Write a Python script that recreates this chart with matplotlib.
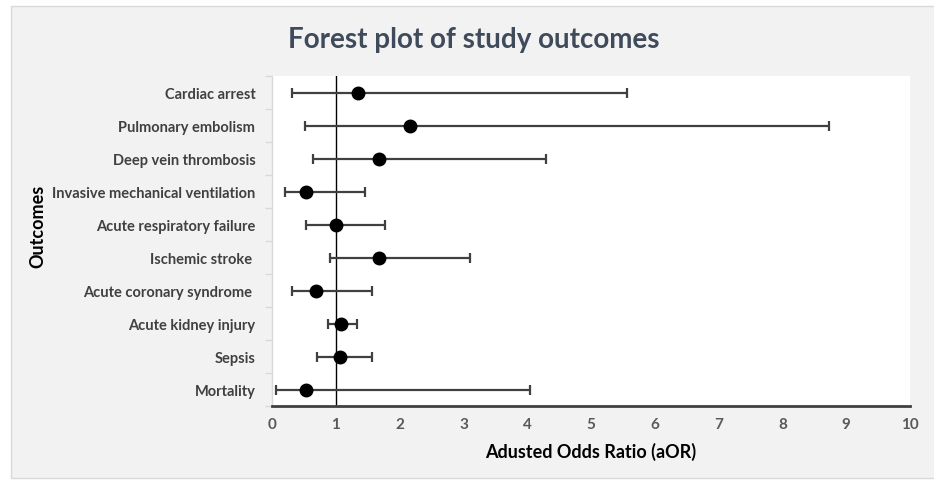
import matplotlib
matplotlib.use("Agg")
import matplotlib.pyplot as plt
from matplotlib.patches import Rectangle

# data
outcomes = ["Cardiac arrest", "Pulmonary embolism", "Deep vein thrombosis",
            "Invasive mechanical ventilation", "Acute respiratory failure",
            "Ischemic stroke ", "Acute coronary syndrome ", "Acute kidney injury",
            "Sepsis", "Mortality"]
aor = [1.35, 2.16, 1.68, 0.53, 1.00, 1.68, 0.69, 1.08, 1.07, 0.53]
ci_low = [0.32, 0.52, 0.65, 0.20, 0.54, 0.91, 0.31, 0.88, 0.70, 0.07]
ci_high = [5.56, 8.73, 4.29, 1.45, 1.77, 3.10, 1.57, 1.33, 1.57, 4.04]
x_ticks = list(range(0, 11))

plt.rcParams['font.family'] = ['Lato', 'DejaVu Sans']

bg = '#f2f2f2'
fig = plt.figure(figsize=(9.34, 4.81), dpi=100)
fig.patch.set_facecolor('white')
# grey chart area with thin border like the excel frame
fig.patches.append(Rectangle((11 / 934, 2 / 481), 1, 472 / 481, transform=fig.transFigure,
                             facecolor=bg, edgecolor='#d9d9d9', linewidth=1, zorder=-1))

ax = fig.add_axes([272 / 934, 74 / 481, 638 / 934, 330 / 481])
ax.set_facecolor('white')

ypos = list(range(len(outcomes)))
err_lo = [a - l for a, l in zip(aor, ci_low)]
err_hi = [h - a for a, h in zip(aor, ci_high)]
ax.errorbar(aor, ypos, xerr=[err_lo, err_hi], fmt='o', color='black', ecolor='#404040',
            elinewidth=1.6, capsize=3.5, capthick=1.6, markersize=9, zorder=3)
ax.axvline(1, color='black', linewidth=1, zorder=2)

ax.set_xlim(0, 10)
ax.set_ylim(len(outcomes) - 0.5, -0.5)
ax.set_xticks(x_ticks)
ax.set_yticks(ypos)
ax.set_yticklabels(outcomes)
ax.set_yticks([i - 0.5 for i in range(len(outcomes) + 1)], minor=True)
ax.tick_params(axis='y', which='major', length=0, pad=12, labelsize=10.5,
               labelcolor='#404040')
ax.tick_params(axis='y', which='minor', length=5, color='#d9d9d9', width=1)
ax.tick_params(axis='x', length=0, pad=8, labelsize=11, labelcolor='#595959')
for lab in ax.get_xticklabels() + ax.get_yticklabels():
    lab.set_fontweight('bold')

for s in ['top', 'right']:
    ax.spines[s].set_visible(False)
ax.spines['left'].set_color('#d9d9d9')
ax.spines['left'].set_linewidth(1)
ax.spines['bottom'].set_color('#404040')
ax.spines['bottom'].set_linewidth(2)

ax.set_xlabel("Adusted Odds Ratio (aOR)", fontsize=13, fontweight='bold', labelpad=8)
fig.text(38 / 934, 1 - 226 / 481, "Outcomes", rotation=90, fontsize=13,
         fontweight='bold', ha='center', va='center')
fig.text(474 / 934, 1 - 40 / 481, "Forest plot of study outcomes", fontsize=20,
         fontweight='bold', color='#3f4a5a', ha='center', va='center')

fig.savefig("out.png", dpi=100, facecolor=fig.get_facecolor())
